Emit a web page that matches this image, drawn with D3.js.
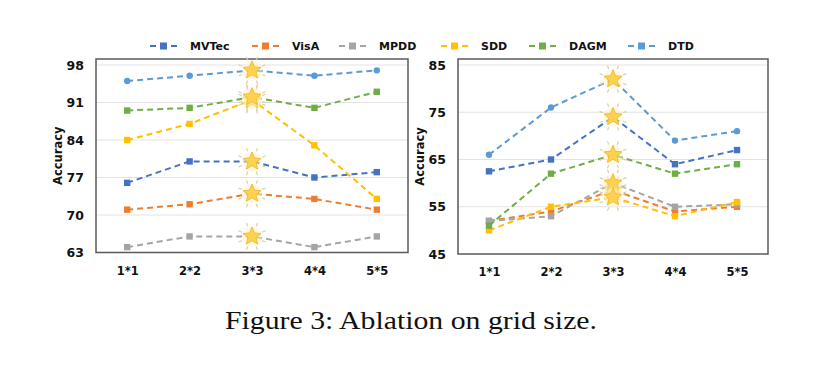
<!DOCTYPE html>
<html><head><meta charset="utf-8">
<script src="https://cdn.jsdelivr.net/npm/d3@7"></script>
<style>
body{margin:0;background:#fff;}
svg text{font-family:"Comic Sans MS","DejaVu Sans",sans-serif;font-weight:bold;fill:#111;}
</style></head>
<body><svg id="c" width="821" height="368"></svg>
<script>
const categories = ["1*1","2*2","3*3","4*4","5*5"];
const seriesNames = ["MVTec","VisA","MPDD","SDD","DAGM","DTD"];
const colors = ["#4472C4","#ED7D31","#A5A5A5","#FFC000","#70AD47","#5B9BD5"];
const markers = ["square","square","square","square","square","circle"];
// left panel
const leftMVTec = [76, 80, 80, 77, 78];
const leftVisA  = [71, 72, 74, 73, 71];
const leftMPDD  = [64, 66, 66, 64, 66];
const leftSDD   = [84, 87, 91.5, 83, 73];
const leftDAGM  = [89.5, 90, 92, 90, 93];
const leftDTD   = [95, 96, 97, 96, 97];
const leftTicks = [63, 70, 77, 84, 91, 98];
// right panel
const rightMVTec = [62.5, 65, 74, 64, 67];
const rightVisA  = [52, 54, 58.5, 54, 55];
const rightMPDD  = [52, 53, 60, 55, 55.5];
const rightSDD   = [50, 55, 57, 53, 56];
const rightDAGM  = [51, 62, 66, 62, 64];
const rightDTD   = [66, 76, 82, 69, 71];
const rightTicks = [45, 55, 65, 75, 85];
const bestIndex = 2;

const svg = d3.select("#c");

function starPath(R, r){
  let p = [];
  for(let i=0;i<10;i++){
    const a = -Math.PI/2 + i*Math.PI/5;
    const rr = i%2===0 ? R : r;
    p.push([rr*Math.cos(a), rr*Math.sin(a)]);
  }
  return "M" + p.map(d=>d.join(",")).join("L") + "Z";
}

function panel(cfg){
  const {x0,x1,yTop,yMin,yMax,pMin,pMax,ticks,data,labelX} = cfg;
  const x = d3.scalePoint().domain(categories).range([x0,x1]).padding(0.5);
  const y = d3.scaleLinear().domain([pMin,pMax]).range([yMin,yMax]);
  const g = svg.append("g");
  g.selectAll(".grid").data(ticks.slice(1)).join("line")
    .attr("x1",x0).attr("x2",x1).attr("y1",d=>y(d)).attr("y2",d=>y(d))
    .attr("stroke","#e3e3e3").attr("stroke-width",1);
  g.append("rect").attr("x",x0).attr("y",yTop).attr("width",x1-x0).attr("height",yMin-yTop)
    .attr("fill","none").attr("stroke","#5a5a5a").attr("stroke-width",1.5);
  const ya = d3.axisLeft(y).tickValues(ticks).tickSize(0).tickPadding(12).tickFormat(d3.format("d"));
  const yg = g.append("g").attr("transform",`translate(${x0},0)`).call(ya);
  yg.select(".domain").remove();
  yg.selectAll("text").attr("font-size",12.5).style("font-family",'"Comic Sans MS","DejaVu Sans",sans-serif').style("font-weight","bold").attr("fill","#111");
  const xa = d3.axisBottom(x).tickSize(0).tickPadding(14);
  const xg = g.append("g").attr("transform",`translate(0,${yMin})`).call(xa);
  xg.select(".domain").remove();
  xg.selectAll("text").attr("font-size",11.5).style("font-family",'"Comic Sans MS","DejaVu Sans",sans-serif').style("font-weight","bold").attr("fill","#111");
  g.append("text").attr("transform",`translate(${labelX},${(yTop+yMin)/2}) rotate(-90)`)
    .attr("text-anchor","middle").attr("dy","0.35em").attr("font-size",11.5).text("Accuracy");
  const line = d3.line().x((d,i)=>x(categories[i])).y(d=>y(d));
  data.forEach((vals,si)=>{
    g.append("path").attr("d",line(vals)).attr("fill","none")
      .attr("stroke",colors[si]).attr("stroke-width",2).attr("stroke-dasharray","6,4");
    if(markers[si]==="circle"){
      g.selectAll(null).data(vals).join("circle")
        .attr("cx",(d,i)=>x(categories[i])).attr("cy",d=>y(d)).attr("r",3.2).attr("fill",colors[si]);
    } else {
      g.selectAll(null).data(vals).join("rect")
        .attr("x",(d,i)=>x(categories[i])-3.2).attr("y",d=>y(d)-3.2)
        .attr("width",6.4).attr("height",6.4).attr("fill",colors[si]);
    }
  });
  data.forEach((vals,si)=>{
    const cx = x(categories[bestIndex]), cy = y(vals[bestIndex]);
    const sg = g.append("g").attr("transform",`translate(${cx},${cy})`);
    for(let k=0;k<8;k++){
      const a = k*Math.PI/4 + Math.PI/8;
      sg.append("line").attr("x1",11*Math.cos(a)).attr("y1",11*Math.sin(a))
        .attr("x2",14.5*Math.cos(a)).attr("y2",14.5*Math.sin(a))
        .attr("stroke","#d9cfa8").attr("stroke-width",1.2);
    }
    sg.append("circle").attr("r",10).attr("fill","#fff4c8").attr("opacity",0.5);
    sg.append("path").attr("d",starPath(9.5,4.3)).attr("fill","#FFD24D")
      .attr("stroke","#E8B530").attr("stroke-width",0.8).attr("stroke-linejoin","round");
  });
}

panel({x0:96,x1:408,yTop:59,yMin:252.5,yMax:65,pMin:63,pMax:98,ticks:leftTicks,
  data:[leftMVTec,leftVisA,leftMPDD,leftSDD,leftDAGM,leftDTD],labelX:58});
panel({x0:458,x1:768,yTop:59,yMin:254,yMax:65,pMin:45,pMax:85,ticks:rightTicks,
  data:[rightMVTec,rightVisA,rightMPDD,rightSDD,rightDAGM,rightDTD],labelX:420});

const legendX = [150,252,339,441,529,628];
const lg = svg.append("g");
seriesNames.forEach((n,i)=>{
  const lx = legendX[i], ly = 46;
  lg.append("line").attr("x1",lx).attr("x2",lx+6).attr("y1",ly).attr("y2",ly).attr("stroke",colors[i]).attr("stroke-width",2);
  lg.append("rect").attr("x",lx+10).attr("y",ly-3.5).attr("width",7).attr("height",7).attr("fill",colors[i]);
  lg.append("line").attr("x1",lx+21).attr("x2",lx+27).attr("y1",ly).attr("y2",ly).attr("stroke",colors[i]).attr("stroke-width",2);
  lg.append("text").attr("x",lx+40).attr("y",ly).attr("dy","0.35em").attr("font-size",11).text(n);
});

svg.append("text").attr("x",411).attr("y",329).attr("text-anchor","middle")
  .style("font-family",'"Liberation Serif","Times New Roman",serif').style("font-weight","normal")
  .attr("font-size",25.5).attr("textLength",372).attr("lengthAdjust","spacingAndGlyphs")
  .text("Figure 3: Ablation on grid size.");
</script></body></html>
